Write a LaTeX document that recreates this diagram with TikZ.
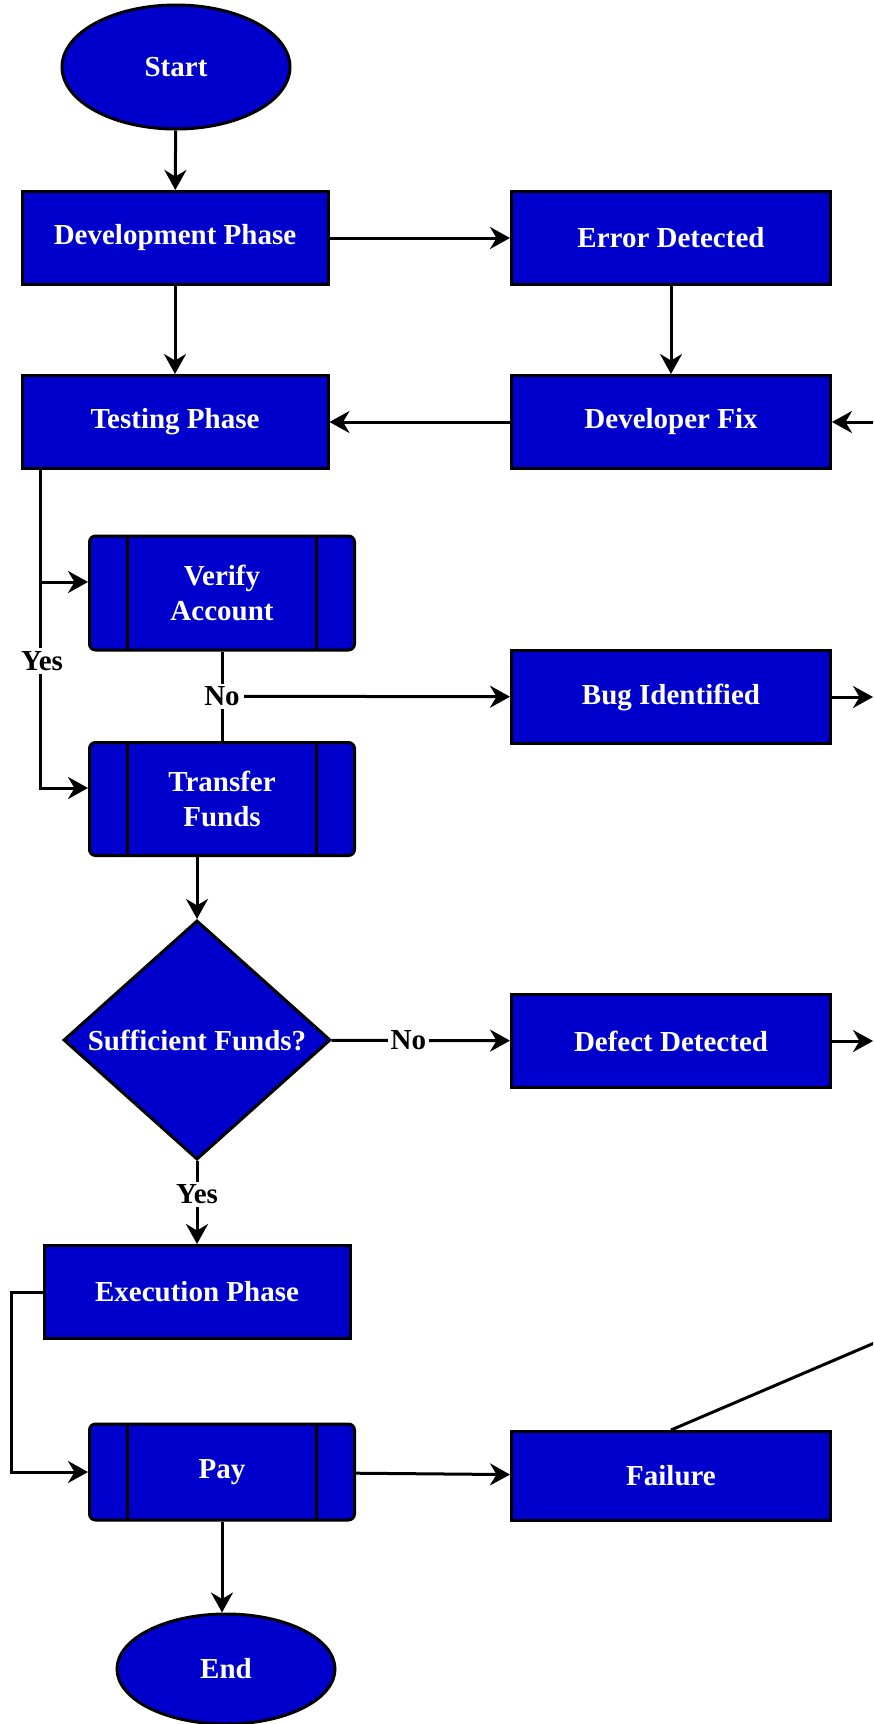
\documentclass[tikz,border=0pt]{standalone}
\usepackage{fontspec}
\setmainfont{Liberation Serif}
\usetikzlibrary{shapes.geometric, arrows.meta}
\definecolor{boxblue}{RGB}{0,0,204}

\begin{document}
\begin{tikzpicture}[x=0.5pt, y=-0.5pt,
    font=\bfseries\fontsize{14.5}{17.5}\selectfont,
    main/.style = {draw=black, line width=1.5pt, fill=boxblue, text=white, align=center},
    proc/.style = {main, rectangle, minimum width=159.5pt, minimum height=46.5pt},
    sub/.style = {main, rectangle, rounded corners=3pt, minimum width=132.5pt, minimum height=57pt,
        path picture={
            \draw[line width=1.5pt] ([xshift=19pt]path picture bounding box.north west) -- ([xshift=19pt]path picture bounding box.south west);
            \draw[line width=1.5pt] ([xshift=-19pt]path picture bounding box.north east) -- ([xshift=-19pt]path picture bounding box.south east);}},
    term/.style = {main, ellipse},
    dec/.style = {main, diamond, minimum width=133.5pt, minimum height=118pt, inner sep=0pt},
    lbl/.style = {fill=white, inner sep=1.5pt, text=black},
    line/.style = {line width=1.5pt},
    arr/.style = {line, -{Stealth[length=10pt, width=11pt]}}]
    \useasboundingbox (0,0) rectangle (873,1724);
    \clip (0,0) rectangle (873,1724);

    \node[term, minimum width=114pt, minimum height=62pt] (1) at (176,67) {Start};
    \node[proc, minimum width=153pt] (2) at (175,238) {Development Phase};
    \node[proc] (3) at (671,238) {Error Detected};
    \node[proc, minimum width=153pt] (4) at (175,422) {Testing Phase};
    \node[proc] (5) at (671,422) {Developer Fix};
    \node[sub] (6) at (222,593) {Verify\\Account};
    \node[proc] (7) at (671,697) {Bug Identified};
    \node[sub, minimum height=56.5pt] (8) at (222,799) {Transfer\\Funds};
    \node[dec] (9) at (197,1040) {Sufficient Funds?};
    \node[proc] (10) at (671,1041) {Defect Detected};
    \node[proc, minimum width=153pt] (11) at (197,1292) {Execution Phase};
    \node[sub, minimum height=48pt] (12) at (222,1472) {Pay};
    \node[proc, minimum height=44.5pt] (13) at (671,1476) {Failure};
    \node[term, minimum width=109pt, minimum height=55pt] (14) at (226,1669) {End};

    \coordinate (a) at ([xshift=10pt]4.south west);
    \coordinate (t6) at ([yshift=5.5pt]6.west);
    \coordinate (t8) at ([yshift=5.5pt]8.west);
    \coordinate (c1) at (900,422);
    \coordinate (c2) at (873,697);
    \coordinate (c3) at (873,1041);
    \coordinate (c4) at (900,1332);

    \draw[arr] (1) -- (2);
    \draw[arr] (2) -- (3);
    \draw[arr] (2) -- (4);
    \draw[arr] (3) -- (5);
    \draw[arr] (5) -- (4);
    \draw[arr] (c1) -- (5);
    \draw[arr] (a) |- (t8);
    \draw[arr] (a |- t6) -- (t6);
    \node[lbl] (y1) at (42,661) {Yes};
    \draw[line] (6) -- (8) node[lbl, pos=0.5] (n1) {No};
    \draw[arr] (n1) -- (7);
    \draw[arr] (7) -- (c2);
    \draw[arr] (8.south -| 9.north) -- (9.north);
    \draw[arr] (9) -- (10) node[lbl, pos=0.43] {No};
    \draw[arr] (10) -- (c3);
    \draw[arr] (9) -- (11) node[lbl, pos=0.4] {Yes};
    \draw[arr] (11.west) -- ++(-31,0) |- (12.west);
    \draw[arr] (12) -- (13);
    \draw[line] (13.north) -- (c4);
    \draw[arr] (12.south) -- (12.south |- 14.north);
\end{tikzpicture}
\end{document}
